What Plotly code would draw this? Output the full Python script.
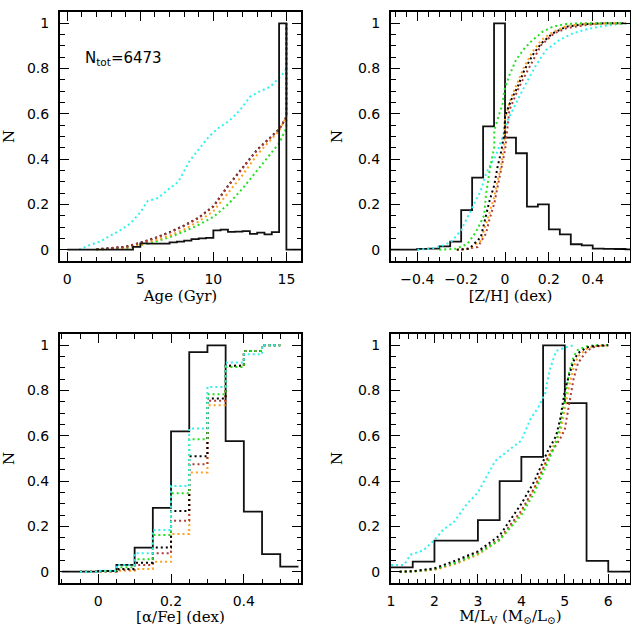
import plotly.graph_objects as go

# ---------------- data ----------------
# Panel 1: Age (Gyr)
age_edges = [0, 0.5, 1, 1.5, 2, 2.5, 3, 3.5, 4, 4.5, 5, 5.5, 6, 6.5, 7, 7.5, 8, 8.5, 9, 9.5,
             10, 10.5, 11, 11.5, 12, 12.5, 13, 13.5, 14, 14.5, 15, 15.5, 16]
age_hist = [0, 0, 0, 0, 0, 0, 0, 0, 0, 0.012, 0.028, 0.027, 0.027, 0.027, 0.032, 0.036, 0.04,
            0.047, 0.05, 0.052, 0.085, 0.089, 0.079, 0.08, 0.082, 0.07, 0.075, 0.068, 0.078,
            1.0, 0, 0]
age_x = [2, 3, 4, 5, 6, 7, 8, 9, 10, 11, 12, 13, 14, 14.5, 14.95, 15, 15]
age_red = [0.002, 0.006, 0.012, 0.03, 0.05, 0.075, 0.105, 0.14, 0.19, 0.28, 0.36, 0.44, 0.50, 0.53, 0.58, 0.6, 1.0]
age_black = [0.002, 0.006, 0.013, 0.031, 0.052, 0.077, 0.107, 0.142, 0.192, 0.282, 0.362, 0.442, 0.502, 0.532, 0.58, 0.6, 1.0]
age_orange = [0.001, 0.004, 0.008, 0.02, 0.04, 0.062, 0.09, 0.125, 0.17, 0.25, 0.33, 0.42, 0.49, 0.525, 0.58, 0.6, 1.0]
age_green = [0.001, 0.003, 0.007, 0.02, 0.035, 0.055, 0.08, 0.11, 0.145, 0.2, 0.27, 0.35, 0.43, 0.47, 0.53, 0.55, 1.0]
age_cx = [0.8, 1.5, 2.2, 2.9, 3.6, 4.3, 5.0, 5.5, 6.2, 7.0, 7.6, 8.4, 9.1, 9.7, 10.4, 11.1,
          11.8, 12.5, 13.2, 13.9, 14.8, 15, 15]
age_cyan = [0, 0.02, 0.035, 0.06, 0.085, 0.115, 0.165, 0.215, 0.228, 0.27, 0.30, 0.395, 0.45,
            0.50, 0.54, 0.57, 0.615, 0.675, 0.70, 0.72, 0.78, 0.8, 1.0]

# Panel 2: [Z/H] (dex)
zh_edges = [-0.55, -0.5, -0.45, -0.4, -0.35, -0.3, -0.25, -0.2, -0.15, -0.1, -0.05, 0,
            0.05, 0.1, 0.15, 0.2, 0.25, 0.3, 0.35, 0.4, 0.45, 0.5, 0.55, 0.6]
zh_hist = [0, 0, 0, 0.004, 0.005, 0.015, 0.036, 0.175, 0.318, 0.545, 1.0, 0.495, 0.426, 0.19,
           0.2, 0.09, 0.068, 0.024, 0.019, 0.005, 0.004, 0.003, 0.001]
zh_gx = [-0.3, -0.224, -0.171, -0.133, -0.095, -0.087, -0.07, -0.049, -0.049, -0.011, -0.003,
         0.02, 0.05, 0.088, 0.126, 0.172, 0.218, 0.279, 0.34, 0.45, 0.55]
zh_green = [0, 0.004, 0.026, 0.078, 0.152, 0.24, 0.351, 0.454, 0.528, 0.646, 0.705, 0.771,
            0.838, 0.889, 0.926, 0.963, 0.985, 0.997, 1.0, 1.0, 1.0]
zh_bx = [-0.22, -0.163, -0.11, -0.095, -0.072, -0.049, -0.034, -0.018, -0.003, 0.0, 0.027,
         0.058, 0.088, 0.126, 0.165, 0.218, 0.279, 0.37, 0.45, 0.55]
zh_black = [0, 0.004, 0.056, 0.122, 0.211, 0.285, 0.366, 0.432, 0.513, 0.587, 0.66, 0.72,
            0.793, 0.86, 0.911, 0.956, 0.985, 0.997, 1.0, 1.0]
zh_orange = [0, 0.004, 0.04, 0.085, 0.159, 0.233, 0.307, 0.366, 0.469, 0.58, 0.67, 0.74,
             0.81, 0.875, 0.925, 0.962, 0.988, 0.998, 1.0, 1.0]
zh_rx = [-0.2, -0.125, -0.087, -0.072, -0.049, -0.034, -0.018, -0.011, 0.0, 0.02, 0.058, 0.088,
         0.126, 0.165, 0.225, 0.279, 0.37, 0.45, 0.55]
zh_red = [0, 0.012, 0.071, 0.13, 0.204, 0.277, 0.351, 0.39, 0.44, 0.616, 0.705, 0.764, 0.83,
          0.904, 0.956, 0.978, 0.993, 1.0, 1.0]
zh_cx = [-0.4, -0.346, -0.30, -0.247, -0.201, -0.171, -0.133, -0.11, -0.087, -0.064, -0.041,
         -0.011, 0.012, 0.05, 0.096, 0.142, 0.187, 0.248, 0.309, 0.37, 0.43, 0.507, 0.57]
zh_cyan = [0, 0.004, 0.012, 0.034, 0.085, 0.147, 0.218, 0.262, 0.336, 0.38, 0.417, 0.498,
           0.572, 0.646, 0.735, 0.816, 0.882, 0.926, 0.956, 0.973, 0.985, 0.996, 1.0]

# Panel 3: [alpha/Fe] (dex)
af_edges = [-0.1, -0.05, 0, 0.05, 0.1, 0.15, 0.2, 0.25, 0.3, 0.35, 0.4, 0.45, 0.5, 0.55]
af_hist = [0, 0, 0.003, 0.03, 0.106, 0.282, 0.62, 0.97, 1.0, 0.577, 0.265, 0.078, 0.022]
af_cedges = [-0.05, 0, 0.05, 0.1, 0.15, 0.2, 0.25, 0.3, 0.35, 0.4, 0.45, 0.5]
af_cyan = [0, 0.004, 0.03, 0.081, 0.184, 0.378, 0.632, 0.816, 0.924, 0.96, 1.0]
af_green = [0, 0.003, 0.02, 0.055, 0.162, 0.346, 0.585, 0.784, 0.904, 0.975, 1.0]
af_black = [0, 0.002, 0.012, 0.04, 0.107, 0.268, 0.51, 0.765, 0.91, 0.975, 1.0]
af_red = [0, 0.002, 0.008, 0.03, 0.081, 0.225, 0.475, 0.755, 0.91, 0.975, 1.0]
af_orange = [0, 0.001, 0.004, 0.012, 0.044, 0.166, 0.438, 0.735, 0.905, 0.975, 1.0]

# Panel 4: M/L_V
ml_edges = [1, 1.5, 2, 2.5, 3, 3.5, 4, 4.5, 5, 5.5, 6, 6.5]
ml_hist = [0.019, 0.044, 0.137, 0.137, 0.228, 0.4, 0.507, 1.0, 0.745, 0.048, 0]
ml_x = [1.2, 1.5, 2.0, 2.5, 3.0, 3.5, 4.0, 4.3, 4.6, 4.8, 4.9, 5.0, 5.1, 5.2, 5.3, 5.5, 5.7, 6.0]
ml_black = [0, 0.002, 0.015, 0.05, 0.09, 0.16, 0.30, 0.40, 0.53, 0.60, 0.68, 0.80, 0.87, 0.93, 0.965, 0.99, 0.998, 1.0]
ml_red = [0, 0.001, 0.01, 0.04, 0.085, 0.145, 0.27, 0.37, 0.50, 0.56, 0.59, 0.63, 0.75, 0.85, 0.92, 0.975, 0.995, 1.0]
ml_orange = [0, 0.001, 0.008, 0.035, 0.075, 0.14, 0.26, 0.37, 0.50, 0.58, 0.62, 0.72, 0.82, 0.90, 0.95, 0.985, 0.997, 1.0]
ml_green = [0, 0.001, 0.012, 0.04, 0.08, 0.14, 0.25, 0.35, 0.48, 0.57, 0.65, 0.76, 0.88, 0.95, 0.98, 0.995, 1.0, 1.0]
ml_cx = [1.0, 1.3, 1.45, 1.75, 2.0, 2.2, 2.45, 2.75, 3.0, 3.2, 3.4, 3.7, 4.0, 4.2, 4.4, 4.55,
         4.65, 4.8, 5.0, 5.2]
ml_cyan = [0.03, 0.03, 0.075, 0.095, 0.14, 0.185, 0.22, 0.30, 0.35, 0.42, 0.49, 0.535, 0.58,
           0.67, 0.73, 0.79, 0.89, 0.975, 0.99, 1.0]

# ---------------- styling ----------------
C_CYAN = "#33f0f0"
C_RED = "#b03a3a"
C_BLACK = "#000000"
C_ORANGE = "#ffa21a"
C_GREEN = "#22e022"
DOT = "2px,3px"

fig = go.Figure()


def add_line(x, y, color, xa, ya, shape="linear", dash=DOT, width=2):
    fig.add_trace(go.Scatter(x=x, y=y, mode="lines", xaxis=xa, yaxis=ya,
                             line=dict(color=color, width=width, dash=dash, shape=shape),
                             showlegend=False, hoverinfo="skip"))


def add_hist(edges, vals, xa, ya):
    add_line(edges, list(vals) + [vals[-1]], "#111111", xa, ya, shape="hv", dash="solid", width=1.8)


# Panel 1
add_line(age_cx, age_cyan, C_CYAN, "x", "y")
add_line(age_x, age_green, C_GREEN, "x", "y")
add_line(age_x, age_orange, C_ORANGE, "x", "y")
add_line(age_x, age_black, C_BLACK, "x", "y")
add_line(age_x, age_red, C_RED, "x", "y")
add_hist(age_edges, age_hist, "x", "y")

# Panel 2
add_hist(zh_edges, zh_hist, "x2", "y2")
add_line(zh_cx, zh_cyan, C_CYAN, "x2", "y2")
add_line(zh_rx, zh_red, C_RED, "x2", "y2")
add_line(zh_bx, zh_orange, C_ORANGE, "x2", "y2")
add_line(zh_bx, zh_black, C_BLACK, "x2", "y2")
add_line(zh_gx, zh_green, C_GREEN, "x2", "y2")

# Panel 3
add_hist(af_edges, af_hist, "x3", "y3")
for vals, col in [(af_orange, C_ORANGE), (af_red, C_RED), (af_black, C_BLACK),
                  (af_green, C_GREEN), (af_cyan, C_CYAN)]:
    add_line(af_cedges, list(vals) + [vals[-1]], col, "x3", "y3", shape="hv")

# Panel 4
add_hist(ml_edges, ml_hist, "x4", "y4")
add_line(ml_cx, ml_cyan, C_CYAN, "x4", "y4")
add_line(ml_x, ml_orange, C_ORANGE, "x4", "y4")
add_line(ml_x, ml_red, C_RED, "x4", "y4")
add_line(ml_x, ml_green, C_GREEN, "x4", "y4")
add_line(ml_x, ml_black, C_BLACK, "x4", "y4")

W, H = 631, 626
TICKFONT = dict(family="DejaVu Sans", size=14, color="black")
TITLEFONT = dict(family="DejaVu Serif", size=15, color="black")


def xaxis(domain, anchor, rng, dtick, minor, title, tick0=0):
    return dict(domain=domain, anchor=anchor, range=rng, dtick=dtick, tick0=tick0,
                showline=True, linewidth=2, linecolor="black", mirror="allticks",
                ticks="inside", ticklen=9, tickwidth=1.3, tickcolor="black",
                minor=dict(ticks="inside", ticklen=4.5, dtick=minor, tickwidth=1.1, tickcolor="black"),
                showgrid=False, zeroline=False, tickfont=TICKFONT,
                ticklabelstandoff=4,
                title=dict(text=title, font=TITLEFONT, standoff=5), automargin=False)


def yaxis(domain, anchor):
    return dict(domain=domain, anchor=anchor, range=[-0.05, 1.05], dtick=0.2, tick0=0,
                showline=True, linewidth=2, linecolor="black", mirror="allticks",
                ticks="inside", ticklen=9, tickwidth=1.3, tickcolor="black",
                minor=dict(ticks="inside", ticklen=4.5, dtick=0.05, tickwidth=1.1, tickcolor="black"),
                showgrid=False, zeroline=False, tickfont=TICKFONT,
                ticklabelstandoff=6,
                title=dict(text="N", font=TITLEFONT, standoff=12), automargin=False)


c1 = [60 / W, 301 / W]
c2 = [391 / W, 630 / W]
r1 = [1 - 261 / H, 1 - 12 / H]
r2 = [1 - 583 / H, 1 - 334 / H]

fig.update_layout(
    width=W, height=H, margin=dict(l=0, r=0, t=0, b=0),
    paper_bgcolor="white", plot_bgcolor="white",
    xaxis=xaxis(c1, "y", [-0.5, 16], 5, 1, "Age (Gyr)"),
    yaxis=yaxis(r1, "x"),
    xaxis2=xaxis(c2, "y2", [-0.52, 0.57], 0.2, 0.05, "[Z/H] (dex)"),
    yaxis2=yaxis(r1, "x2"),
    xaxis3=xaxis(c1, "y3", [-0.105, 0.557], 0.2, 0.05, "[α/Fe] (dex)"),
    yaxis3=yaxis(r2, "x3"),
    xaxis4=xaxis(c2, "y4", [1, 6.5], 1, 0.2, "M/L<sub>V</sub> (M<sub>⊙</sub>/L<sub>⊙</sub>)"),
    yaxis4=yaxis(r2, "x4"),
    annotations=[dict(text="N<sub>tot</sub>=6473", x=1.05, y=0.845, xref="x", yref="y",
                      xanchor="left", yanchor="middle", showarrow=False,
                      font=dict(family="DejaVu Sans", size=15, color="black"))],
)

fig.write_html("out.html", config={"displayModeBar": False},
               post_script="document.body.style.margin='0';document.body.style.overflow='hidden';")
